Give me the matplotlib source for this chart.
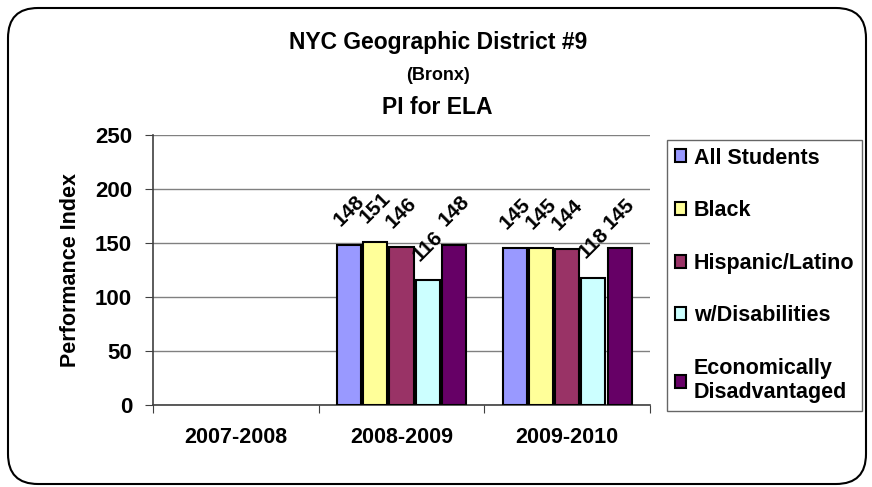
import numpy as np
import matplotlib
matplotlib.use("Agg")
import matplotlib.pyplot as plt
from matplotlib.patches import FancyBboxPatch

plt.rcParams['font.family'] = ['Liberation Sans', 'DejaVu Sans']
plt.rcParams['font.weight'] = 'bold'

years = ["2007-2008", "2008-2009", "2009-2010"]
groups = ["All Students", "Black", "Hispanic/Latino", "w/Disabilities",
          "Economically\nDisadvantaged"]
all_students = [np.nan, 148, 145]
black = [np.nan, 151, 145]
hispanic = [np.nan, 146, 144]
disabilities = [np.nan, 116, 118]
econ = [np.nan, 148, 145]
colors = ["#9999FF", "#FFFF99", "#993366", "#CCFFFF", "#660066"]

series = [all_students, black, hispanic, disabilities, econ]

fig = plt.figure(figsize=(8.72, 4.87), dpi=100)
ax = fig.add_axes([153 / 872, 1 - 405 / 487, 497 / 872, 270 / 487])

step = 0.158
width = 0.145
centers = np.arange(len(years)) + 0.5
for i, (vals, c, name) in enumerate(zip(series, colors, groups)):
    xs = centers + (i - 2) * step
    v = np.array(vals, dtype=float)
    ok = ~np.isnan(v)
    ax.bar(xs[ok], v[ok], width, color=c, edgecolor="black",
           linewidth=1.5, label=name, zorder=3)
    for x, val in zip(xs[ok], v[ok]):
        ax.annotate(f"{val:.0f}", (x, val), xytext=(0, 11),
                    textcoords="offset points", ha="center", va="bottom",
                    rotation=45, fontsize=15, fontweight="bold")

ax.set_xlim(0, 3)
ax.set_ylim(0, 250)
ax.set_yticks(range(0, 251, 50))
ax.grid(axis="y", color="#808080", linewidth=1, zorder=0)
ax.set_axisbelow(True)

ax.set_xticks([0, 1, 2, 3])
ax.set_xticklabels([])
ax.set_xticks(centers, minor=True)
ax.set_xticklabels(years, minor=True, fontsize=15.5, fontweight="bold")
ax.tick_params(axis="x", which="major", length=6, color="#404040", direction="out")
ax.tick_params(axis="x", which="minor", length=0, pad=16)
ax.tick_params(axis="y", length=6, color="#404040", pad=9, labelsize=16)

for s in ["top", "right"]:
    ax.spines[s].set_visible(False)
for s in ["left", "bottom"]:
    ax.spines[s].set_color("#404040")
    ax.spines[s].set_linewidth(1.2)

ax.set_ylabel("Performance Index", fontsize=15.5, fontweight="bold", labelpad=10)

fig.text(0.502, 1 - 42 / 487, "NYC Geographic District #9", ha="center",
         va="center", fontsize=16.5, fontweight="bold")
fig.text(0.502, 1 - 75 / 487, "(Bronx)", ha="center", va="center",
         fontsize=13, fontweight="bold")
fig.text(0.502, 1 - 108 / 487, "PI for ELA", ha="center", va="center",
         fontsize=16.5, fontweight="bold")

leg = fig.legend(loc="upper left", bbox_to_anchor=(667 / 872, 1 - 140 / 487),
                 frameon=True, fancybox=False, edgecolor="#404040",
                 fontsize=15.5, handlelength=0.55, handleheight=0.55,
                 handletextpad=0.35, labelspacing=1.47, borderpad=0.35,
                 borderaxespad=0)
leg.get_frame().set_linewidth(1.0)

border = FancyBboxPatch((0.08, 0.03), 8.58, 4.76,
                        boxstyle="round,pad=0,rounding_size=0.3",
                        transform=fig.dpi_scale_trans, facecolor="none",
                        edgecolor="black", linewidth=1.5)
fig.patches.append(border)

fig.savefig("out.png", dpi=100)
